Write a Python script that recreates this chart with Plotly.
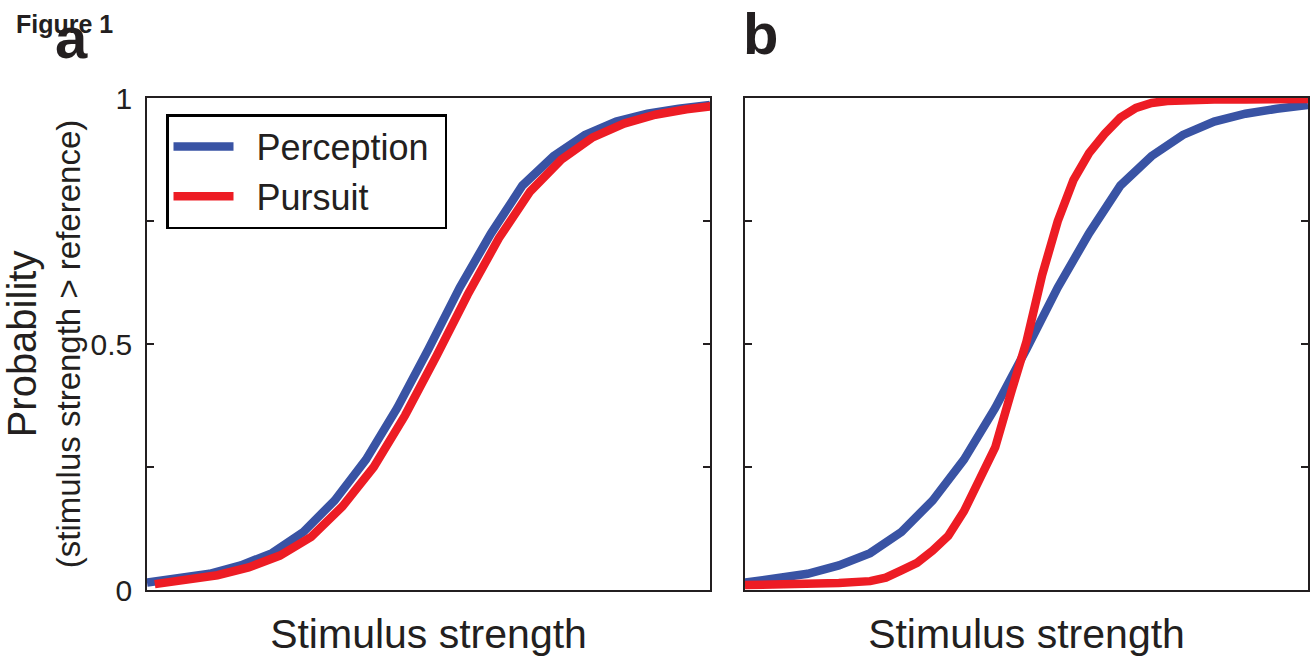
import plotly.graph_objects as go

# ---- data ----
stim_index = list(range(19))                      # stimulus strength samples (arbitrary units)
perception = [0.015, 0.022, 0.033, 0.050, 0.075, 0.118, 0.182, 0.265, 0.370, 0.490,
              0.615, 0.725, 0.822, 0.882, 0.925, 0.952, 0.968, 0.978, 0.986]

# panel a: pursuit nearly identical, slightly shifted
stim_pursuit_a = [0.25 + i for i in range(19)]
pursuit_a = [0.012, 0.020, 0.030, 0.046, 0.070, 0.108, 0.170, 0.250, 0.355, 0.475,
             0.600, 0.715, 0.810, 0.875, 0.920, 0.948, 0.966, 0.977, 0.985]

# panel b: pursuit much steeper
stim_pursuit_b = [0, 1, 2, 3, 4, 4.5, 5, 5.5, 6, 6.5, 7, 7.5, 8, 8.5, 9, 9.5, 10, 10.5,
                  11, 11.5, 12, 12.5, 13, 13.5, 14, 15, 16, 17, 18]
pursuit_b = [0.010, 0.010, 0.012, 0.014, 0.018, 0.025, 0.040, 0.055, 0.080, 0.110,
             0.160, 0.230, 0.290, 0.400, 0.505, 0.640, 0.750, 0.833, 0.888, 0.927,
             0.960, 0.980, 0.990, 0.994, 0.996, 0.997, 0.997, 0.998, 0.998]

series_names = ["\u2002Perception\u00a0", "\u2002Pursuit"]
y_tick_vals = [0, 0.25, 0.5, 0.75, 1]
y_tick_text = ["0", "", "0.5", "", "1"]

BLUE = "#3953a4"
RED = "#ed1c24"
AX = "#231f20"
FONT = "Liberation Sans, Arial, Helvetica, sans-serif"

W, H = 1314, 665


def fx(px):
    return px / W


def fy(py):
    return 1 - py / H


fig = go.Figure()
fig.add_trace(go.Scatter(x=stim_index, y=perception, mode="lines", name=series_names[0],
                         line=dict(color=BLUE, width=8.5), xaxis="x", yaxis="y"))
fig.add_trace(go.Scatter(x=stim_pursuit_a, y=pursuit_a, mode="lines", name=series_names[1],
                         line=dict(color=RED, width=8.5), xaxis="x", yaxis="y"))
fig.add_trace(go.Scatter(x=stim_index, y=perception, mode="lines", name=series_names[0],
                         line=dict(color=BLUE, width=8.5), xaxis="x2", yaxis="y2",
                         showlegend=False))
fig.add_trace(go.Scatter(x=stim_pursuit_b, y=pursuit_b, mode="lines", name=series_names[1],
                         line=dict(color=RED, width=8.5), xaxis="x2", yaxis="y2",
                         showlegend=False))

xa = [fx(147), fx(710)]
xb = [fx(745), fx(1308)]
yd = [fy(590), fy(98)]

xcommon = dict(range=[0, 18], showline=True, linecolor=AX, linewidth=1.5, mirror=True,
               ticks="", showticklabels=False, showgrid=False, zeroline=False,
               automargin=False,
               title=dict(text="Stimulus strength", font=dict(size=41, color="#231f20"),
                          standoff=29))
ycommon = dict(range=[0, 1], showline=True, linecolor=AX, linewidth=1.5, mirror="ticks",
               ticks="inside", ticklen=7, tickwidth=1.5, tickcolor=AX, automargin=False,
               tickvals=y_tick_vals, ticktext=y_tick_text, showgrid=False, zeroline=False)

fig.update_layout(
    template="none",
    width=W, height=H,
    margin=dict(l=0, r=0, t=0, b=0, pad=0),
    paper_bgcolor="white", plot_bgcolor="white",
    font=dict(family=FONT, color="#231f20"),
    xaxis=dict(domain=xa, anchor="y", **xcommon),
    xaxis2=dict(domain=xb, anchor="y2", **xcommon),
    yaxis=dict(domain=yd, anchor="x", showticklabels=True,
               tickfont=dict(size=30), ticklabelstandoff=7,
               title=dict(text="<span style='font-size:40px'>Probability</span><br>"
                               "<span style='font-size:33px'>(stimulus strength > reference)</span>",
                          font=dict(size=34), standoff=17),
               **ycommon),
    yaxis2=dict(domain=yd, anchor="x2", showticklabels=False, **ycommon),
    showlegend=True,
    legend=dict(x=fx(166), y=fy(114), xanchor="left", yanchor="top",
                bgcolor="white", bordercolor="#000000", borderwidth=2.5,
                font=dict(size=36), itemwidth=60, tracegroupgap=0),
    annotations=[
        dict(text="<b>Figure 1</b>", x=fx(14), y=fy(24), xref="paper", yref="paper",
             xanchor="left", yanchor="middle", showarrow=False, font=dict(size=25)),
        dict(text="<b>a</b>", x=fx(53), y=fy(37), xref="paper", yref="paper",
             xanchor="left", yanchor="middle", showarrow=False, font=dict(size=58)),
        dict(text="<b>b</b>", x=fx(741), y=fy(34), xref="paper", yref="paper",
             xanchor="left", yanchor="middle", showarrow=False, font=dict(size=58)),
    ],
)

fig.write_html("out.html",
               config={"displayModeBar": False},
               post_script="document.body.style.margin='0';document.body.style.overflow='hidden';")
